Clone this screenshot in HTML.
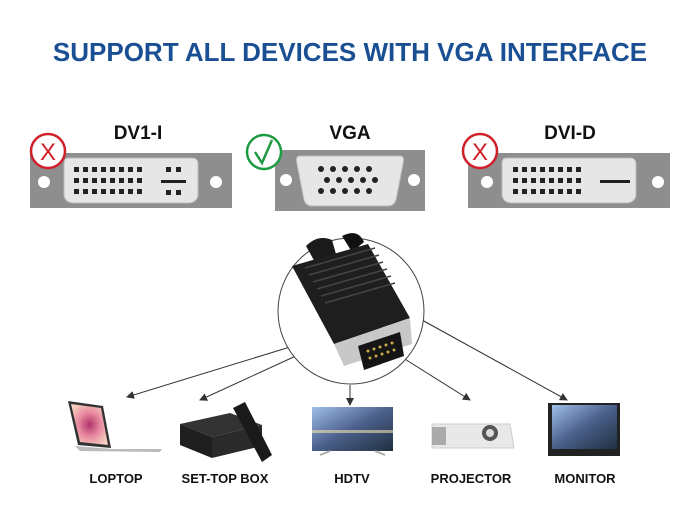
<!DOCTYPE html>
<html><head><meta charset="utf-8"><style>
body{margin:0;width:700px;height:525px;background:#fff;overflow:hidden;font-family:"Liberation Sans",sans-serif}
</style></head><body>
<svg width="700" height="525" xmlns="http://www.w3.org/2000/svg" font-family="Liberation Sans, sans-serif">
<defs>
<marker id="a" markerWidth="8" markerHeight="8" refX="7" refY="4" orient="auto"><path d="M0,0 L8,4 L0,8 z" fill="#333"/></marker>
<linearGradient id="sc" x1="0" y1="0" x2="1" y2="1"><stop offset="0" stop-color="#9fc0e8"/><stop offset=".5" stop-color="#4a5f8a"/><stop offset="1" stop-color="#203040"/></linearGradient>
<radialGradient id="fl" cx=".5" cy=".5" r=".6"><stop offset="0" stop-color="#b0336a"/><stop offset=".5" stop-color="#e98aa0"/><stop offset="1" stop-color="#f5d0c0"/></radialGradient>
</defs>
<text x="350" y="61" text-anchor="middle" font-size="26" font-weight="bold" fill="#1a4f93">SUPPORT ALL DEVICES WITH VGA INTERFACE</text>

<!-- DVI-I -->
<text x="138" y="139" text-anchor="middle" font-size="19" font-weight="600" fill="#111">DV1-I</text>
<rect x="30" y="153" width="202" height="55" fill="#8e8e8e"/>
<path d="M68 158 H192 Q198 158 198 164 V196 Q196 203 188 203 H74 Q66 203 64 196 V164 Q64 158 68 158Z" fill="#e6e6e6" stroke="#bbb"/>
<circle cx="44" cy="182" r="6" fill="#fff"/><circle cx="216" cy="182" r="6" fill="#fff"/>
<g fill="#222">
<g id="r1"><rect x="74" y="167" width="5" height="5"/><rect x="83" y="167" width="5" height="5"/><rect x="92" y="167" width="5" height="5"/><rect x="101" y="167" width="5" height="5"/><rect x="110" y="167" width="5" height="5"/><rect x="119" y="167" width="5" height="5"/><rect x="128" y="167" width="5" height="5"/><rect x="137" y="167" width="5" height="5"/></g>
<use href="#r1" y="11"/><use href="#r1" y="22"/>
<rect x="166" y="167" width="5" height="5"/><rect x="176" y="167" width="5" height="5"/><rect x="161" y="180" width="25" height="3"/><rect x="166" y="190" width="5" height="5"/><rect x="176" y="190" width="5" height="5"/>
</g>
<circle cx="48" cy="151" r="17" fill="#fff" stroke="#d0202a" stroke-width="2.5"/>
<text x="48" y="160" text-anchor="middle" font-size="24" fill="#d0202a">X</text>

<!-- VGA -->
<text x="350" y="139" text-anchor="middle" font-size="19" font-weight="600" fill="#111">VGA</text>
<rect x="275" y="150" width="150" height="61" fill="#8e8e8e"/>
<path d="M300 156 H400 Q405 156 403 164 L396 200 Q394 206 388 206 H312 Q306 206 304 200 L297 164 Q295 156 300 156Z" fill="#e6e6e6" stroke="#bbb"/>
<circle cx="286" cy="180" r="6" fill="#fff"/><circle cx="414" cy="180" r="6" fill="#fff"/>
<g fill="#222">
<circle cx="321" cy="169" r="3"/><circle cx="333" cy="169" r="3"/><circle cx="345" cy="169" r="3"/><circle cx="357" cy="169" r="3"/><circle cx="369" cy="169" r="3"/>
<circle cx="327" cy="180" r="3"/><circle cx="339" cy="180" r="3"/><circle cx="351" cy="180" r="3"/><circle cx="363" cy="180" r="3"/><circle cx="375" cy="180" r="3"/>
<circle cx="321" cy="191" r="3"/><circle cx="333" cy="191" r="3"/><circle cx="345" cy="191" r="3"/><circle cx="357" cy="191" r="3"/><circle cx="369" cy="191" r="3"/>
</g>
<circle cx="264" cy="152" r="17" fill="#fff" stroke="#1e9a45" stroke-width="2.5"/>
<path d="M255 152 L262 163 L272 140" fill="none" stroke="#1e9a45" stroke-width="2.5"/>

<!-- DVI-D -->
<text x="570" y="139" text-anchor="middle" font-size="19" font-weight="600" fill="#111">DVI-D</text>
<rect x="468" y="153" width="202" height="55" fill="#8e8e8e"/>
<path d="M506 158 H630 Q636 158 636 164 V196 Q634 203 626 203 H512 Q504 203 502 196 V164 Q502 158 506 158Z" fill="#e6e6e6" stroke="#bbb"/>
<circle cx="487" cy="182" r="6" fill="#fff"/><circle cx="658" cy="182" r="6" fill="#fff"/>
<g fill="#222"><use href="#r1" x="439"/><use href="#r1" x="439" y="11"/><use href="#r1" x="439" y="22"/><rect x="600" y="180" width="30" height="3"/></g>
<circle cx="480" cy="151" r="17" fill="#fff" stroke="#d0202a" stroke-width="2.5"/>
<text x="480" y="160" text-anchor="middle" font-size="24" fill="#d0202a">X</text>

<!-- circle + plug -->
<g stroke="#333" stroke-width="1" marker-end="url(#a)">
<line x1="290" y1="347" x2="127" y2="397"/>
<line x1="298" y1="355" x2="200" y2="400"/>
<line x1="350" y1="385" x2="350" y2="405"/>
<line x1="400" y1="356" x2="470" y2="400"/>
<line x1="422" y1="320" x2="567" y2="400"/>
</g>
<circle cx="351" cy="311" r="73" fill="#fff" stroke="#444" stroke-width="1"/>
<path d="M306 246 Q318 234 332 240 L336 254 L316 264Z" fill="#1a1a1a"/>
<path d="M342 236 Q358 228 364 242 L352 252Z" fill="#111"/>
<path d="M292 266 L368 244 L410 318 L334 344Z" fill="#1e1e1e"/>
<g stroke="#444" stroke-width="1.5"><line x1="305" y1="268" x2="375" y2="248"/><line x1="309" y1="275" x2="379" y2="255"/><line x1="313" y1="282" x2="383" y2="262"/><line x1="317" y1="289" x2="387" y2="269"/><line x1="321" y1="296" x2="391" y2="276"/><line x1="325" y1="303" x2="395" y2="283"/></g>
<path d="M334 344 L410 318 L412 344 L344 366Z" fill="#c8c8c8"/>
<path d="M358 346 L400 332 L404 356 L364 370Z" fill="#151515"/>
<g fill="#c9a94a"><circle cx="368" cy="351" r="1.5"/><circle cx="374" cy="349" r="1.5"/><circle cx="380" cy="347" r="1.5"/><circle cx="386" cy="345" r="1.5"/><circle cx="392" cy="343" r="1.5"/><circle cx="370" cy="358" r="1.5"/><circle cx="376" cy="356" r="1.5"/><circle cx="382" cy="354" r="1.5"/><circle cx="388" cy="352" r="1.5"/><circle cx="394" cy="350" r="1.5"/></g>

<!-- devices -->
<path d="M68 401 L103 406 L111 448 L78 445Z" fill="#333"/>
<path d="M71 404 L101 408 L108 445 L80 442Z" fill="url(#fl)"/>
<path d="M75 446 L112 449 L162 449 L160 452 L80 451Z" fill="#bbb"/>
<path d="M180 424 L230 413 L262 425 L212 437Z" fill="#333"/>
<path d="M180 424 L212 437 L212 458 L180 445Z" fill="#1f1f1f"/>
<path d="M212 437 L262 425 L262 446 L212 458Z" fill="#2a2a2a"/>
<path d="M233 408 L245 402 L272 455 L262 462Z" fill="#1a1a1a"/>
<rect x="312" y="407" width="81" height="44" fill="url(#sc)"/>
<rect x="312" y="430" width="81" height="3" fill="#f0e0b0" opacity=".6"/>
<path d="M320 455 L330 451 M385 455 L375 451" stroke="#aaa" stroke-width="2"/>
<path d="M432 424 L510 424 L514 448 L432 448Z" fill="#e8e8e8" stroke="#ccc"/>
<rect x="432" y="427" width="14" height="18" fill="#aaa"/>
<circle cx="490" cy="433" r="8" fill="#555"/><circle cx="490" cy="433" r="4" fill="#ddd"/>
<rect x="548" y="403" width="72" height="53" fill="#222"/>
<rect x="552" y="405" width="65" height="44" fill="url(#sc)"/>
<g font-size="13" font-weight="bold" fill="#111" text-anchor="middle">
<text x="116" y="483">LOPTOP</text><text x="225" y="483">SET-TOP BOX</text><text x="352" y="483">HDTV</text><text x="471" y="483">PROJECTOR</text><text x="585" y="483">MONITOR</text>
</g>
</svg>
</body></html>
